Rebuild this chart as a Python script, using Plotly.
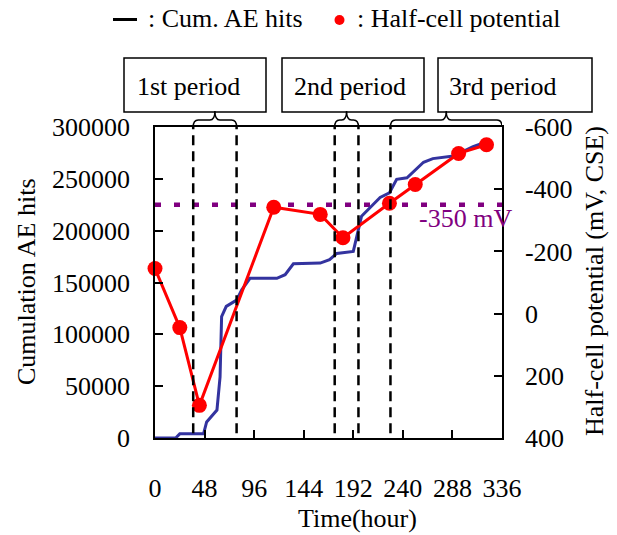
import plotly.graph_objects as go

# ---------------- data ----------------
ae_hours = [0, 20, 24, 47, 50, 60, 63, 64.5, 69, 79, 84, 92, 118, 126, 134, 160,
            169, 176, 192, 197, 200, 211, 218, 227, 234, 244, 253, 260, 269, 289,
            308, 318, 322]
ae_hits = [0, 0, 4000, 4000, 15500, 27000, 59000, 117000, 127000, 133000, 143000,
           154000, 154000, 157500, 168000, 168700, 172000, 178000, 180000, 201000,
           214000, 225000, 232000, 236500, 249500, 251000, 259000, 266000, 269500,
           272000, 281000, 285000, 286000]

pot_hours = [0, 24, 43, 115, 160, 182, 227, 252, 294, 321]
pot_mv = [-145, 45, 295, -342, -319, -244, -355, -415, -515, -543]

threshold_mv = -350
period_names = ["1st period", "2nd period", "3rd period"]
period_start = [37, 174, 228]
period_end = [79, 197, 336]
dashed_hours = [37, 79, 174, 197, 228]

x_ticks = [0, 48, 96, 144, 192, 240, 288, 336]
x_ticktext = ["0", "48", "96", "144", "192", "240", "288", "336"]
y_ticks = [0, 50000, 100000, 150000, 200000, 250000, 300000]
y_ticktext = ["0", "50000", "100000", "150000", "200000", "250000", "300000"]
y2_ticks = [-600, -400, -200, 0, 200, 400]
y2_ticktext = ["-600", "-400", "-200", "0", "200", "400"]

# ---------------- layout helpers ----------------
W, H = 617, 535
L, R, T, B = 155, 115, 127, 97
PW, PH = W - L - R, H - T - B
FONT = "Liberation Serif, Times New Roman, serif"
FS = 26


def xp(px):
    return (px - L) / PW


def yp(py):
    return (H - B - py) / PH


fig = go.Figure()
fig.add_trace(go.Scatter(x=ae_hours, y=ae_hits, mode="lines",
                         line=dict(color="#33339f", width=3),
                         yaxis="y", showlegend=False))
fig.add_trace(go.Scatter(x=pot_hours, y=pot_mv, mode="lines+markers",
                         line=dict(color="#ff0000", width=3),
                         marker=dict(color="#ff0000", size=15),
                         yaxis="y2", cliponaxis=False, showlegend=False))

shapes = []
# threshold line
shapes.append(dict(type="line", xref="paper", yref="y2", x0=0, x1=1,
                   y0=threshold_mv, y1=threshold_mv, layer="below",
                   line=dict(color="#800080", width=4.5, dash="6px,13px")))
# dashed period boundaries
for h in dashed_hours:
    shapes.append(dict(type="line", xref="x", yref="paper", x0=h, x1=h,
                       y0=0.015, y1=1, layer="above",
                       line=dict(color="black", width=2.5, dash="10px,6px")))
# braces
r = 5 * 336 / PW
y0b, ymb, ytb = 1.0, yp(120), yp(111)
for a, b in zip(period_start, period_end):
    m = (a + b) / 2
    path = (f"M {a},{y0b} Q {a},{ymb} {a + r},{ymb} L {m - r},{ymb} "
            f"Q {m},{ymb} {m},{ytb} Q {m},{ymb} {m + r},{ymb} "
            f"L {b - r},{ymb} Q {b},{ymb} {b},{y0b}")
    shapes.append(dict(type="path", xref="x", yref="paper", path=path,
                       line=dict(color="black", width=1.5)))
# period boxes
box_px = [(124, 266), (282, 424), (438, 592)]
for (bx0, bx1) in box_px:
    shapes.append(dict(type="rect", xref="paper", yref="paper",
                       x0=xp(bx0), x1=xp(bx1), y0=yp(112), y1=yp(58),
                       line=dict(color="black", width=1.5)))
# legend symbols
shapes.append(dict(type="line", xref="paper", yref="paper",
                   x0=xp(113), x1=xp(137), y0=yp(19.5), y1=yp(19.5),
                   line=dict(color="black", width=3)))
shapes.append(dict(type="circle", xref="paper", yref="paper",
                   x0=xp(334.5), x1=xp(344.5), y0=yp(25), y1=yp(15),
                   fillcolor="#ff0000", line=dict(color="#ff0000", width=0)))

annotations = []
txt_left = [135, 291.7, 446.7]
for name, tx in zip(period_names, txt_left):
    annotations.append(dict(text=name, xref="paper", yref="paper", x=xp(tx),
                            y=yp(86), xanchor="left", yanchor="middle",
                            showarrow=False))
annotations.append(dict(text=": Cum. AE hits", xref="paper", yref="paper",
                        x=xp(146), y=yp(19), xanchor="left", yanchor="middle",
                        showarrow=False))
annotations.append(dict(text=": Half-cell potential", xref="paper", yref="paper",
                        x=xp(355), y=yp(19), xanchor="left", yanchor="middle",
                        showarrow=False))
annotations.append(dict(text="-350 mV", xref="paper", yref="paper",
                        x=xp(417), y=yp(218), xanchor="left", yanchor="middle",
                        showarrow=False, font=dict(color="#800080")))
annotations.append(dict(text="Cumulation AE hits", xref="paper", yref="paper",
                        x=xp(26), y=yp(282), xanchor="center", yanchor="middle",
                        textangle=-90, showarrow=False))
annotations.append(dict(text="Half-cell potential (mV, CSE)", xref="paper",
                        yref="paper", x=xp(594), y=yp(281), xanchor="center",
                        yanchor="middle", textangle=-90, showarrow=False))
annotations.append(dict(text="Time(hour)", xref="paper", yref="paper",
                        x=xp(357), y=yp(518), xanchor="center",
                        yanchor="middle", showarrow=False))

axis_common = dict(showgrid=False, zeroline=False, showline=True,
                   linecolor="black", linewidth=1.5, ticks="inside",
                   tickcolor="black", tickwidth=1.5, ticklen=8)

fig.update_layout(
    width=W, height=H, autosize=False,
    margin=dict(l=L, r=R, t=T, b=B, pad=0),
    paper_bgcolor="white", plot_bgcolor="white",
    font=dict(family=FONT, size=FS, color="black"),
    showlegend=False,
    xaxis=dict(range=[0, 336], tickvals=x_ticks, ticktext=x_ticktext,
               mirror=True, ticklabelstandoff=26, **axis_common),
    yaxis=dict(range=[0, 300000], tickvals=y_ticks, ticktext=y_ticktext,
               mirror=True, ticklabelstandoff=18, **axis_common),
    yaxis2=dict(range=[400, -600], tickvals=y2_ticks, ticktext=y2_ticktext,
                overlaying="y", side="right", ticklabelstandoff=16,
                **axis_common),
    shapes=shapes, annotations=annotations,
)

fig.write_html("out.html")
